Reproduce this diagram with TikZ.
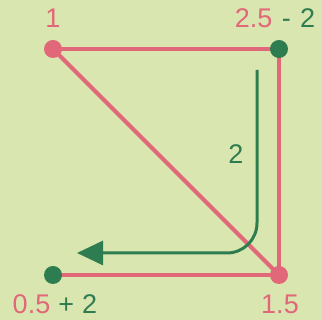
\documentclass[tikz,border=0pt]{standalone}
\usepackage{fontspec}
\setmainfont{Liberation Sans}
\usetikzlibrary{arrows.meta}
\definecolor{bgcol}{RGB}{218,230,176}
\definecolor{pinkcol}{RGB}{224,104,120}
\definecolor{greencol}{RGB}{46,125,80}
\begin{document}
\begin{tikzpicture}[
    x=1pt, y=1pt,
    dot/.style={
        circle,
        inner sep=0pt,
        minimum size=18pt
    },
    edge/.style={pinkcol, line width=4pt},
    lbl/.style={
        inner sep=0pt,
        anchor=center,
        font=\fontsize{27}{30}\selectfont
    },
    move/.style={greencol, line width=3pt, rounded corners=30pt,
        -{Triangle[length=26pt,width=24pt]}}
]

% background and bounding box
\fill[bgcol] (0,0) rectangle (322,320);
\useasboundingbox (0,0) rectangle (322,320);

% corner positions
\coordinate (p1) at (53,271);
\coordinate (p2) at (279,271);
\coordinate (p3) at (279,45);
\coordinate (p4) at (53,45);

% pink edges
\draw[edge] (p1) -- (p2);
\draw[edge] (p2) -- (p3);
\draw[edge] (p1) -- (p3);
\draw[edge] (p3) -- (p4);

% dots on top
\node[dot, fill=pinkcol]  (n1) at (p1) {};
\node[dot, fill=greencol] (n2) at (p2) {};
\node[dot, fill=pinkcol]  (n3) at (p3) {};
\node[dot, fill=greencol] (n4) at (p4) {};

% green move arrow
\coordinate (mstart) at (257,250);
\coordinate (mbend)  at (257,67);
\coordinate (mend)   at (77,67);
\draw[move] (mstart) -- (mbend) -- (mend);
\node[lbl, text=greencol] (mlabel) at (236,166) {2};

% labels
\node[lbl, text=pinkcol] (l1) at (53,302) {1};
\node[lbl] (l2) at (275,302) {\textcolor{pinkcol}{2.5}\hspace{0.35em}\textcolor{greencol}{-\hspace{0.35em}2}};
\node[lbl] (l3) at (55,16) {\textcolor{pinkcol}{0.5}\hspace{0.3em}\textcolor{greencol}{+\hspace{0.3em}2}};
\node[lbl, text=pinkcol] (l4) at (280,16) {1.5};

\end{tikzpicture}
\end{document}
